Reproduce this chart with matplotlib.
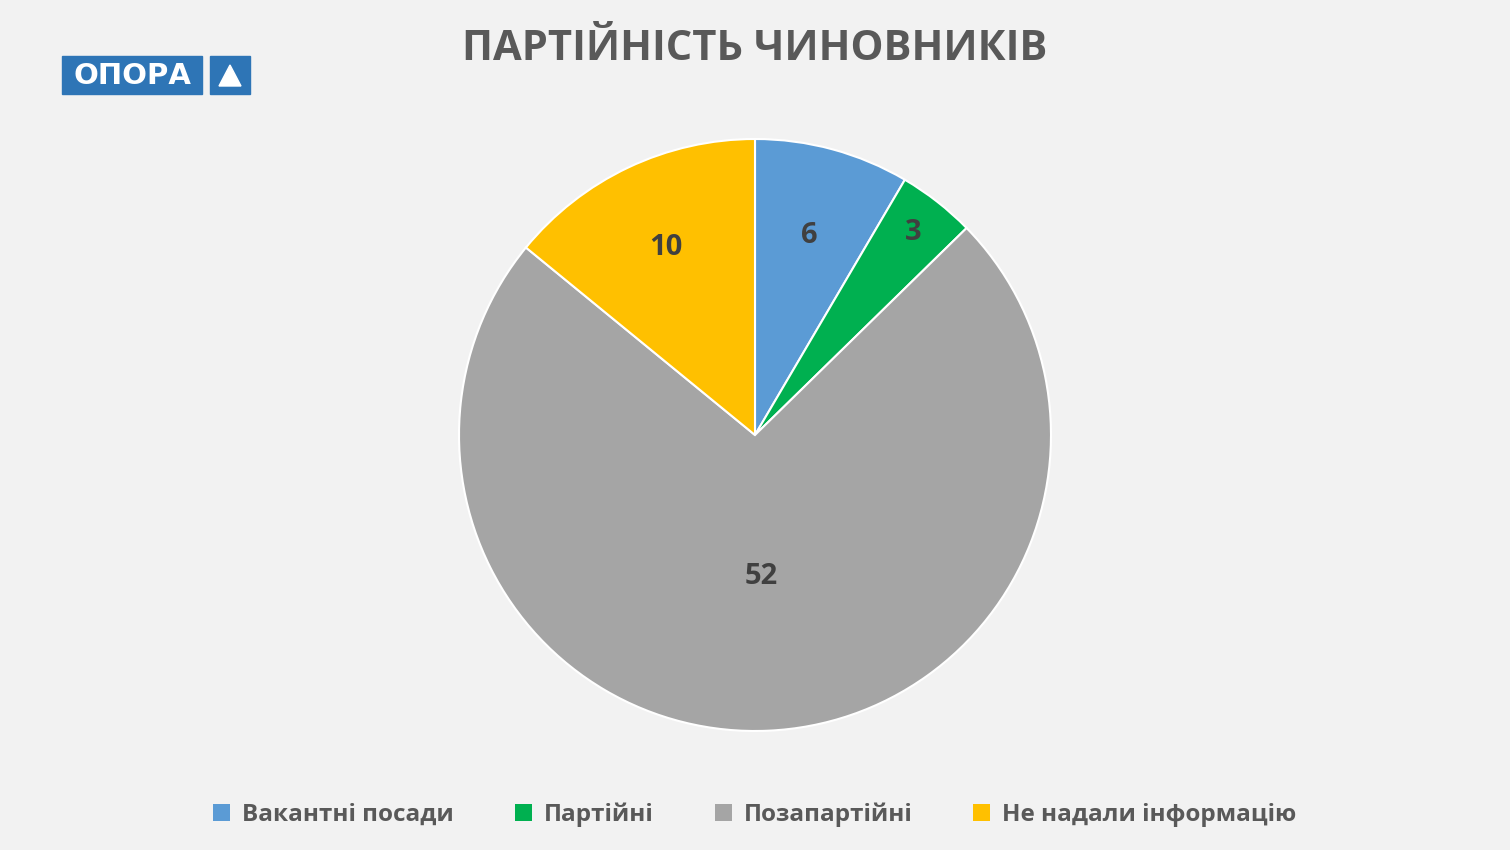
import numpy as np
import matplotlib.pyplot as plt
from matplotlib.patches import Rectangle, Polygon

plt.rcParams['font.family'] = ['Open Sans', 'DejaVu Sans']

categories = ['Вакантні посади', 'Партійні', 'Позапартійні', 'Не надали інформацію']
values = [6, 3, 52, 10]
colors = ['#5B9BD5', '#00B050', '#A5A5A5', '#FFC000']
label_r = [0.70, 0.87, 0.48, 0.70]
text_col = '#404040'

fig = plt.figure(figsize=(15.1, 8.5), dpi=100, facecolor='#F2F2F2')
ax = fig.add_axes([(755 - 296) / 1510, (850 - 731) / 850, 592 / 1510, 592 / 850])
wedges, _ = ax.pie(values, colors=colors, startangle=90, counterclock=False,
                   wedgeprops=dict(edgecolor='white', linewidth=1.5))
ax.set_aspect('equal')
ax.set_xlim(-1, 1)
ax.set_ylim(-1, 1)

for w, v, r in zip(wedges, values, label_r):
    mid = np.deg2rad((w.theta1 + w.theta2) / 2)
    ax.text(r * np.cos(mid), r * np.sin(mid), str(v), ha='center', va='center',
            fontsize=21, fontweight='bold', color=text_col)

fig.text(0.5, 1 - 49 / 850, 'ПАРТІЙНІСТЬ ЧИНОВНИКІВ', ha='center', va='center',
         fontsize=30, fontweight='bold', color='#595959')

# логотип
fig.patches.append(Rectangle((62 / 1510, 1 - 94 / 850), 140 / 1510, 38 / 850,
                             transform=fig.transFigure, color='#2E75B6'))
fig.patches.append(Rectangle((210 / 1510, 1 - 94 / 850), 40 / 1510, 38 / 850,
                             transform=fig.transFigure, color='#2E75B6'))
fig.patches.append(Polygon([(219 / 1510, 1 - 86 / 850), (241 / 1510, 1 - 86 / 850),
                            (230 / 1510, 1 - 65 / 850)],
                           transform=fig.transFigure, color='white'))
fig.text(132 / 1510, 1 - 76 / 850, 'ОПОРА', ha='center', va='center',
         fontsize=21, fontweight='bold', color='white', family='DejaVu Sans')

leg = fig.legend(wedges, categories, loc='center', bbox_to_anchor=(0.5, 1 - 815 / 850),
                 ncol=4, frameon=False, handlelength=0.7, handleheight=0.7,
                 columnspacing=2.5, handletextpad=0.5,
                 prop=dict(size=17.5, weight='bold'))
for t in leg.get_texts():
    t.set_color('#595959')
for h in leg.legend_handles:
    h.set_edgecolor('none')

fig.savefig('out.png', facecolor=fig.get_facecolor())
